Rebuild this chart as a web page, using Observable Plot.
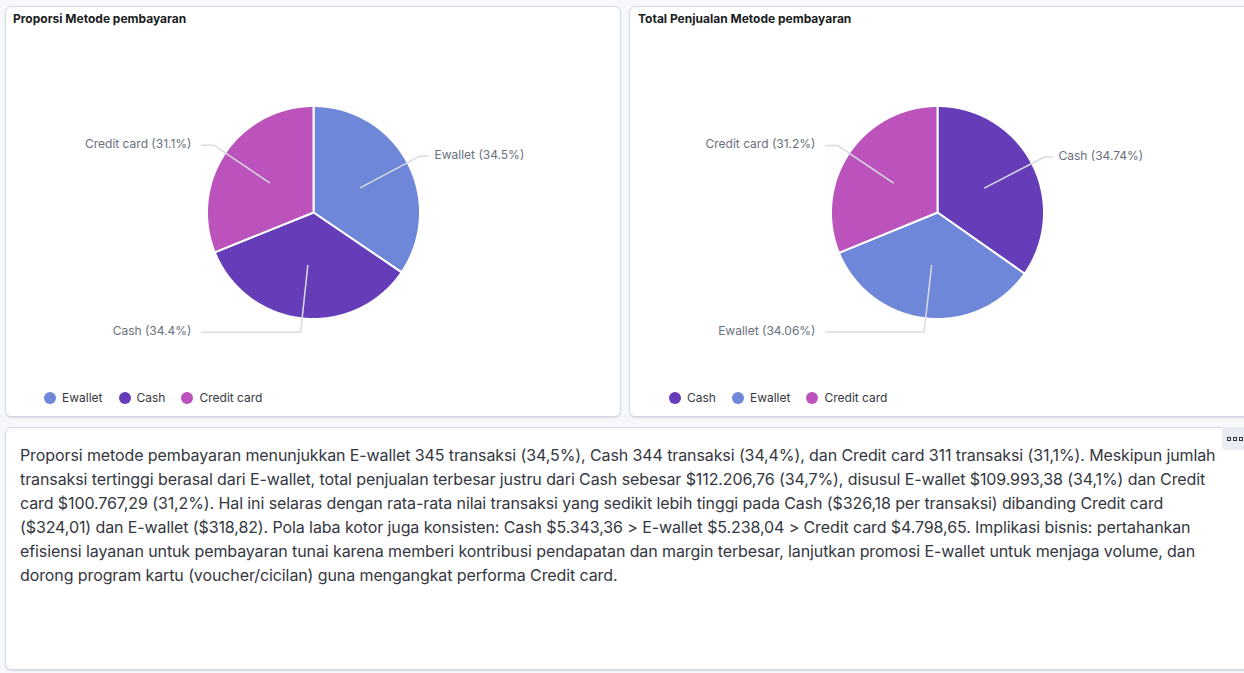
<!DOCTYPE html>
<html><head><meta charset="utf-8">
<script src="https://cdn.jsdelivr.net/npm/d3@7"></script>
<script src="https://cdn.jsdelivr.net/npm/@observablehq/plot@0.6"></script>
<style>
html,body{margin:0;padding:0;}
body{width:1244px;height:673px;overflow:hidden;background:#f7f8fc;font-family:Inter,"Noto Sans",sans-serif;position:relative;}
.card{position:absolute;background:#fff;border:1px solid #d3dae6;border-radius:6px;box-sizing:border-box;box-shadow:0 1px 2px rgba(0,0,0,0.08),0 1px 1px rgba(0,0,0,0.04);}
.title{position:absolute;font-size:12px;font-weight:700;color:#1a1c21;line-height:14px;white-space:nowrap;}
.plot{position:absolute;}
.legend{position:absolute;display:flex;align-items:center;height:14px;font-size:12px;color:#343741;line-height:14px;white-space:nowrap;}
.legend .item{display:flex;align-items:center;margin-right:16px;}
.legend .sw{width:12px;height:12px;border-radius:50%;margin-right:6px;}
.text{position:absolute;left:20px;top:443px;font-size:16px;line-height:24px;color:#343741;white-space:nowrap;letter-spacing:-0.1px;}
.kebab{position:absolute;left:1222px;top:427px;width:26px;height:23px;background:#e9edf3;border-radius:0 0 0 4px;display:flex;align-items:center;padding-left:5px;box-sizing:border-box;}
.kebab span{display:inline-block;width:2px;height:2px;border:1px solid #343741;margin-right:2px;}
</style>
</head><body>
<div class="card" style="left:5px;top:6px;width:616px;height:411px;"></div>
<div class="card" style="left:629px;top:6px;width:622px;height:411px;"></div>
<div class="card" style="left:5px;top:427px;width:1246px;height:243px;"></div>
<div class="title" style="left:13px;top:12px;">Proporsi Metode pembayaran</div>
<div class="title" style="left:638px;top:12px;">Total Penjualan Metode pembayaran</div>
<div id="p1" class="plot" style="left:6px;top:30px;"></div>
<div id="p2" class="plot" style="left:630px;top:30px;"></div>
<div id="l1" class="legend" style="left:44px;top:391px;"></div>
<div id="l2" class="legend" style="left:669px;top:391px;"></div>
<div class="kebab"><span></span><span></span><span></span></div>
<div class="text">Proporsi metode pembayaran menunjukkan E-wallet 345 transaksi (34,5%), Cash 344 transaksi (34,4%), dan Credit card 311 transaksi (31,1%). Meskipun jumlah<br>transaksi tertinggi berasal dari E-wallet, total penjualan terbesar justru dari Cash sebesar $112.206,76 (34,7%), disusul E-wallet $109.993,38 (34,1%) dan Credit<br>card $100.767,29 (31,2%). Hal ini selaras dengan rata-rata nilai transaksi yang sedikit lebih tinggi pada Cash ($326,18 per transaksi) dibanding Credit card<br>($324,01) dan E-wallet ($318,82). Pola laba kotor juga konsisten: Cash $5.343,36 &gt; E-wallet $5.238,04 &gt; Credit card $4.798,65. Implikasi bisnis: pertahankan<br>efisiensi layanan untuk pembayaran tunai karena memberi kontribusi pendapatan dan margin terbesar, lanjutkan promosi E-wallet untuk menjaga volume, dan<br>dorong program kartu (voucher/cicilan) guna mengangkat performa Credit card.</div>
<script>
// Data
const methodsCount = ["Ewallet", "Cash", "Credit card"];
const transactionCount = [345, 344, 311];
const methodsSales = ["Cash", "Ewallet", "Credit card"];
const totalSales = [112206.76, 109993.38, 100767.29];
const colorDomain = ["Ewallet", "Cash", "Credit card"];
const colorRange = ["#6f87d8", "#663db8", "#bc52bc"];

function piePlot(names, values) {
  const total = d3.sum(values);
  const R = 106.5;
  let acc = 0;
  const slices = names.map((n, i) => {
    const a0 = acc / total * 2 * Math.PI;
    acc += values[i];
    const a1 = acc / total * 2 * Math.PI;
    return {name: n, pct: values[i] / total * 100, a0, a1, mid: (a0 + a1) / 2};
  });
  const pt = (a, r) => [r * Math.sin(a), -r * Math.cos(a)];
  const verts = [];
  for (const s of slices) {
    const n = Math.max(2, Math.ceil((s.a1 - s.a0) / 0.01));
    verts.push({name: s.name, p: [0, 0]});
    for (let k = 0; k <= n; k++) verts.push({name: s.name, p: pt(s.a0 + (s.a1 - s.a0) * k / n, R)});
    verts.push({name: s.name, p: [0, 0]});
  }
  const leaders = [], labels = [];
  for (const s of slices) {
    const inner = pt(s.mid, R * 0.5);
    const outer = pt(s.mid, R * 1.13);
    const right = outer[0] >= 0;
    const endX = right ? 115 : -112;
    leaders.push({name: s.name, p: inner}, {name: s.name, p: outer}, {name: s.name, p: [endX, outer[1]]});
    labels.push({x: right ? 121 : -122, y: outer[1] - 1, right, text: `${s.name} (${+s.pct.toFixed(2)}%)`});
  }
  return Plot.plot({
    width: 613, height: 340, margin: 0,
    style: {fontFamily: "Inter, 'Noto Sans', sans-serif", fontSize: "12px", background: "transparent", overflow: "visible"},
    x: {domain: [-307, 306], range: [0, 613], axis: null},
    y: {domain: [-182, 158], range: [0, 340], axis: null},
    color: {domain: colorDomain, range: colorRange},
    marks: [
      Plot.line(verts, {x: d => d.p[0], y: d => d.p[1], z: "name", fill: "name", stroke: "#fff", strokeWidth: 2, strokeLinejoin: "round", curve: "linear"}),
      Plot.line(leaders, {x: d => d.p[0], y: d => d.p[1], z: "name", stroke: "#d8dbe2", strokeWidth: 1.5, curve: "linear"}),
      Plot.text(labels.filter(d => d.right), {x: "x", y: "y", text: "text", textAnchor: "start", fill: "#69707d", fontSize: 12}),
      Plot.text(labels.filter(d => !d.right), {x: "x", y: "y", text: "text", textAnchor: "end", fill: "#69707d", fontSize: 12})
    ]
  });
}

function legend(el, names) {
  const c = d3.scaleOrdinal(colorDomain, colorRange);
  for (const n of names) {
    const it = document.createElement("div");
    it.className = "item";
    it.innerHTML = `<div class="sw" style="background:${c(n)}"></div><span>${n}</span>`;
    el.appendChild(it);
  }
}

document.getElementById("p1").appendChild(piePlot(methodsCount, transactionCount));
document.getElementById("p2").appendChild(piePlot(methodsSales, totalSales));
legend(document.getElementById("l1"), methodsCount);
legend(document.getElementById("l2"), methodsSales);
</script>
</body></html>
